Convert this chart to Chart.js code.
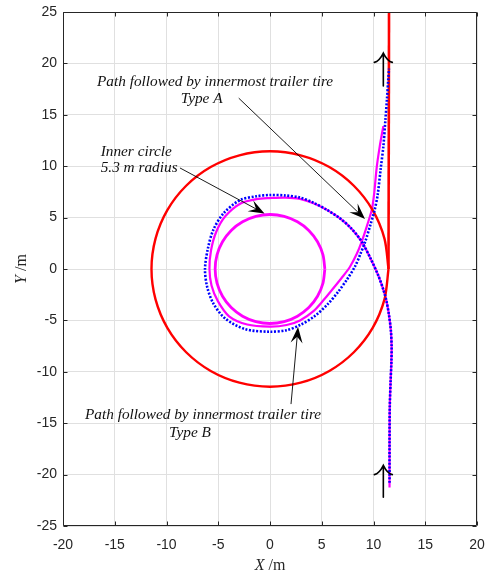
<!DOCTYPE html>
<html>
<head>
<meta charset="utf-8">
<script src="https://cdn.jsdelivr.net/npm/chart.js@4.4.1/dist/chart.umd.min.js"></script>
<style>
  html, body { margin: 0; padding: 0; background: #ffffff; }
  #wrap { width: 486px; height: 573px; position: relative; }
</style>
</head>
<body>
<div id="wrap"><canvas id="c" width="486" height="573"></canvas></div>
<script>
// ---- axis ticks ----
const xTickValues = [-20, -15, -10, -5, 0, 5, 10, 15, 20];
const yTickValues = [-25, -20, -15, -10, -5, 0, 5, 10, 15, 20, 25];

// ---- outer circle (tractor path) and straight exit, m ----
const outerCircleX = [11.45, 11.06, 9.92, 8.10, 5.73, 2.96, 0, -2.96, -5.73, -8.10, -9.92, -11.06, -11.45,
  -11.06, -9.92, -8.10, -5.73, -2.96, 0, 2.96, 5.73, 8.10, 9.92, 11.06, 11.45];
const outerCircleY = [0, 2.96, 5.73, 8.10, 9.92, 11.06, 11.45, 11.06, 9.92, 8.10, 5.73, 2.96, 0,
  -2.96, -5.73, -8.10, -9.92, -11.06, -11.45, -11.06, -9.92, -8.10, -5.73, -2.96, 0];
const exitLineX = [11.45, 11.5];
const exitLineY = [0, 25];

// ---- inner circle, 5.3 m radius ----
const innerCircleX = [5.3, 5.12, 4.59, 3.75, 2.65, 1.37, 0, -1.37, -2.65, -3.75, -4.59, -5.12, -5.3,
  -5.12, -4.59, -3.75, -2.65, -1.37, 0, 1.37, 2.65, 3.75, 4.59, 5.12, 5.3];
const innerCircleY = [0, 1.37, 2.65, 3.75, 4.59, 5.12, 5.3, 5.12, 4.59, 3.75, 2.65, 1.37, 0,
  -1.37, -2.65, -3.75, -4.59, -5.12, -5.3, -5.12, -4.59, -3.75, -2.65, -1.37, 0];

// ---- innermost trailer tire, Type A ----
const typeAX = [11.55, 11.55, 11.57, 11.65, 11.73, 11.75, 11.68, 11.5, 11.25, 10.95, 10.45, 9.75, 8.86, 7.9, 6.8,
  5.5, 4.2, 2.9, 1.5, 0, -1.3, -2.8, -4.3, -5.2, -5.7, -5.85, -5.65, -5.05, -3.95, -2.2, 0, 1.6, 2.9,
  4.2, 5.2, 6.1, 6.9, 7.73, 8.4, 8.86, 9.4, 9.83, 10.05, 10.3, 10.6, 10.95];
const typeAY = [-21.25, -17, -13.5, -11, -9, -7.5, -6, -4.5, -3.1, -2.0, -0.6, 0.95, 2.66, 3.9, 4.9,
  5.75, 6.4, 6.82, 6.95, 6.9, 6.8, 6.4, 5.15, 3.6, 1.8, 0, -1.6, -3.1, -4.6, -5.4, -5.6, -5.45, -5.0,
  -4.1, -3.0, -1.9, -0.9, 0.22, 1.5, 2.66, 4.3, 5.74, 7.2, 9.8, 11.9, 13.9];

// ---- innermost trailer tire, Type B ----
const typeBX = [11.55, 11.55, 11.57, 11.65, 11.73, 11.75, 11.68, 11.5, 11.25, 10.95, 10.45, 9.75, 8.86, 7.9, 6.8,
  5.5, 4.2, 2.9, 1.5, 0, -1.3, -2.9, -4.5, -5.48, -6.0, -6.28, -6.08, -5.5, -4.35, -2.4, 0, 1.6, 2.9,
  4.3, 5.6, 6.6, 7.45, 8.2, 8.75, 9.2, 9.7, 10.1, 10.4, 10.7, 10.95, 11.15, 11.3, 11.43, 11.5];
const typeBY = [-20.8, -17, -13.5, -11, -9, -7.5, -6, -4.5, -3.1, -2.0, -0.6, 0.95, 2.66, 3.9, 4.9,
  5.75, 6.45, 6.95, 7.15, 7.2, 7.08, 6.7, 5.4, 3.8, 2.0, 0, -1.7, -3.3, -4.8, -5.85, -6.1, -5.95, -5.45,
  -4.6, -3.4, -2.2, -1.0, 0.22, 1.5, 2.66, 4.3, 5.7, 7.2, 9.8, 11.9, 14.5, 16.5, 18.5, 19.5];

// ---- labels with leader arrows (text anchor and arrow ends in m) ----
const noteTexts = [
  { lines: ['Path followed by innermost trailer tire', 'Type A'], x: [-5.31, -6.6], y: [17.82, 16.11], align: 'center' },
  { lines: ['Inner circle', '5.3 m radius'], x: [-16.36, -16.36], y: [11.03, 9.47], align: 'left' },
  { lines: ['Path followed by innermost trailer tire', 'Type B'], x: [-6.47, -7.73], y: [-14.6, -16.31], align: 'center' }
];
const leaderFromX = [-3.02, -8.7, 2.03];
const leaderFromY = [16.62, 9.83, -13.14];
const leaderTipX = [9.18, -0.53, 2.71];
const leaderTipY = [4.87, 5.4, -5.65];

// ---- direction-of-travel arrows: shaft bottom, apex, wing ends ----
const travelArrowX = [10.95, 10.95];
const travelArrowBase = [17.8, -22.2];
const travelArrowApex = [21.0, -19.1];
const travelArrowWingDX = 0.87;
const travelArrowWingDY = 0.9;

const pts = (xs, ys) => xs.map((x, i) => ({ x: x, y: ys[i] }));

const INK = '#262626';
const TICK_FONT = { family: "'Liberation Sans', Arial, sans-serif", size: 14 };
const SERIF = "'Liberation Serif', 'Times New Roman', serif";

const framePlugin = {
  id: 'frame',
  afterDatasetsDraw(chart) {
    const ctx = chart.ctx;
    const a = chart.chartArea;
    const xs = chart.scales.x, ys = chart.scales.y;
    ctx.save();
    ctx.strokeStyle = INK;
    ctx.lineWidth = 1;
    const L = Math.round(a.left) + 0.5, R = Math.round(a.right) - 0.5;
    const T = Math.round(a.top) + 0.5, B = Math.round(a.bottom) - 0.5;
    ctx.beginPath();
    ctx.rect(L, T, R - L, B - T);
    // inward tick marks on all four sides
    const tl = 4;
    xTickValues.forEach(v => {
      const p = Math.round(xs.getPixelForValue(v)) + 0.5;
      ctx.moveTo(p, B); ctx.lineTo(p, B - tl);
      ctx.moveTo(p, T); ctx.lineTo(p, T + tl);
    });
    yTickValues.forEach(v => {
      const p = Math.round(ys.getPixelForValue(v)) + 0.5;
      ctx.moveTo(L, p); ctx.lineTo(L + tl, p);
      ctx.moveTo(R, p); ctx.lineTo(R - tl, p);
    });
    ctx.stroke();
    ctx.restore();
  },
  afterDraw(chart) {
    const ctx = chart.ctx;
    const a = chart.chartArea;
    const xs = chart.scales.x, ys = chart.scales.y;
    ctx.save();

    // axis titles: italic variable, upright unit
    const drawTitle = (v, unit, cx, cy) => {
      ctx.font = 'italic 16px ' + SERIF;
      const w1 = ctx.measureText(v).width;
      ctx.font = '16px ' + SERIF;
      const w2 = ctx.measureText(unit).width;
      let x0 = cx - (w1 + w2) / 2;
      ctx.fillStyle = INK;
      ctx.textBaseline = 'middle';
      ctx.textAlign = 'left';
      ctx.font = 'italic 16px ' + SERIF;
      ctx.fillText(v, x0, cy);
      ctx.font = '16px ' + SERIF;
      ctx.fillText(unit, x0 + w1, cy);
    };
    drawTitle('X', ' /m', (a.left + a.right) / 2, 566);
    ctx.save();
    ctx.translate(22, (a.top + a.bottom) / 2);
    ctx.rotate(-Math.PI / 2);
    drawTitle('Y', ' /m', 0, 0);
    ctx.restore();

    // text notes
    ctx.fillStyle = '#111111';
    ctx.font = 'italic 15.3px ' + SERIF;
    ctx.textBaseline = 'alphabetic';
    noteTexts.forEach(n => {
      ctx.textAlign = n.align;
      n.lines.forEach((s, i) => {
        ctx.fillText(s, xs.getPixelForValue(n.x[i]), ys.getPixelForValue(n.y[i]));
      });
    });

    // leader arrows with filled heads
    leaderFromX.forEach((fx, i) => {
      const x0 = xs.getPixelForValue(fx), y0 = ys.getPixelForValue(leaderFromY[i]);
      const x1 = xs.getPixelForValue(leaderTipX[i]), y1 = ys.getPixelForValue(leaderTipY[i]);
      const ang = Math.atan2(y1 - y0, x1 - x0);
      const HL = 16, HW = 6, notch = 0.6;
      const ux = Math.cos(ang), uy = Math.sin(ang);
      const bx = x1 - ux * HL, by = y1 - uy * HL;
      const nx = x1 - ux * HL * notch, ny = y1 - uy * HL * notch;
      ctx.strokeStyle = '#000';
      ctx.lineWidth = 0.9;
      ctx.beginPath();
      ctx.moveTo(x0, y0);
      ctx.lineTo(nx, ny);
      ctx.stroke();
      ctx.fillStyle = '#000';
      ctx.beginPath();
      ctx.moveTo(x1, y1);
      ctx.lineTo(bx - uy * HW, by + ux * HW);
      ctx.lineTo(nx, ny);
      ctx.lineTo(bx + uy * HW, by - ux * HW);
      ctx.closePath();
      ctx.fill();
    });

    // direction-of-travel arrows
    ctx.strokeStyle = '#000';
    ctx.lineWidth = 1.6;
    ctx.lineCap = 'round';
    travelArrowX.forEach((ax, i) => {
      const px = xs.getPixelForValue(ax);
      const pb = ys.getPixelForValue(travelArrowBase[i]);
      const pa = ys.getPixelForValue(travelArrowApex[i]);
      const wy = ys.getPixelForValue(travelArrowApex[i] - travelArrowWingDY);
      const wl = xs.getPixelForValue(ax - travelArrowWingDX);
      const wr = xs.getPixelForValue(ax + travelArrowWingDX);
      ctx.beginPath();
      ctx.moveTo(px, pb);
      ctx.lineTo(px, pa);
      ctx.moveTo(wl, wy);
      ctx.quadraticCurveTo(px - (px - wl) * 0.45, wy - 1, px, pa);
      ctx.quadraticCurveTo(px + (wr - px) * 0.45, wy - 1, wr, wy);
      ctx.stroke();
    });
    ctx.restore();
  }
};

const lineDs = (data, color, width, order, extra) => Object.assign({
  data: data,
  showLine: true,
  borderColor: color,
  backgroundColor: color,
  borderWidth: width,
  pointRadius: 0,
  pointHoverRadius: 0,
  fill: false,
  tension: 0.3,
  order: order
}, extra || {});

new Chart(document.getElementById('c'), {
  type: 'scatter',
  data: {
    datasets: [
      lineDs(pts(typeBX, typeBY), '#0000ff', 2.6, 0, { borderDash: [2, 1.6] }),
      lineDs(pts(outerCircleX, outerCircleY), '#ff0000', 2.4, 1),
      lineDs(pts(exitLineX, exitLineY), '#ff0000', 2.6, 1, { tension: 0 }),
      lineDs(pts(typeAX, typeAY), '#ff00ff', 2.2, 2),
      lineDs(pts(innerCircleX, innerCircleY), '#ff00ff', 2.8, 2)
    ]
  },
  options: {
    responsive: false,
    animation: false,
    events: [],
    layout: { padding: { left: 0, right: 9, top: 12, bottom: 0 } },
    plugins: { legend: { display: false }, tooltip: { enabled: false }, title: { display: false } },
    scales: {
      x: {
        type: 'linear', min: -20, max: 20,
        afterBuildTicks: s => { s.ticks = xTickValues.map(v => ({ value: v })); },
        afterFit: s => { s.height = 47; s.paddingLeft = 0; s.paddingRight = 0; },
        ticks: { font: TICK_FONT, color: INK, padding: 11, maxRotation: 0 },
        grid: { color: '#e0e0e0', lineWidth: 1, drawTicks: false },
        border: { display: false }
      },
      y: {
        type: 'linear', min: -25, max: 25,
        afterBuildTicks: s => { s.ticks = yTickValues.map(v => ({ value: v })); },
        afterFit: s => { s.width = 63; s.paddingTop = 0; s.paddingBottom = 0; },
        ticks: { font: TICK_FONT, color: INK, padding: 6 },
        grid: { color: '#e0e0e0', lineWidth: 1, drawTicks: false },
        border: { display: false }
      }
    }
  },
  plugins: [framePlugin]
});
</script>
</body>
</html>
